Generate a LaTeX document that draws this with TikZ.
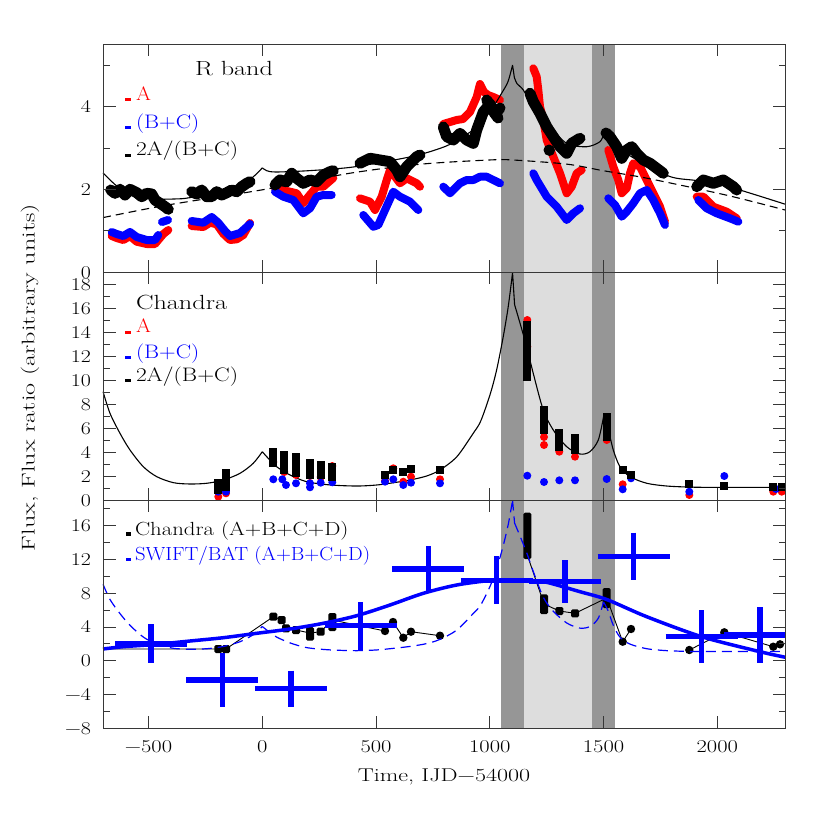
\documentclass[tikz,border=0pt]{standalone}
\definecolor{bandD}{RGB}{150,150,150}
\definecolor{bandL}{RGB}{221,221,221}
\definecolor{frcol}{RGB}{55,55,55}
\newcommand{\sx}[2]{\scalebox{#1}[1]{#2}}
\newcommand{\fs}[1]{\fontsize{#1}{#1}\selectfont}
\newcommand{\xcurve}{%
 plot[smooth,tension=0.5] coordinates {(-700,9.05) (-669.5,7.25) (-625.5,5.58) (-581.5,4.19) (-523,2.8) (-464,1.97) (-391,1.47) (-318,1.36) (-244,1.42) (-171,1.69) (-98,2.25) (-40,3.08) (0,4.05)}%
 plot[smooth,tension=0.5] coordinates {(0,4.05) (26,3.5) (63,2.8) (122,2.11) (195,1.55) (298,1.28) (415,1.19) (500,1.27) (561,1.42) (649,1.69) (723,2.03) (781,2.53) (855,3.63) (927,5.58) (960,6.6) (1001,8.8) (1030,10.86) (1059,13.63) (1081,16.13) (1100,18.97)}%
 plot coordinates {(1100,18.97) (1109,16.3)}%
 plot[smooth,tension=0.5] coordinates {(1109,16.3) (1133,14.75) (1162,12.8) (1191,10.58) (1235,7.53) (1279,5.86) (1338,4.47) (1396,3.86) (1440,4.05) (1477,5.03) (1500,6.97)}%
 plot[smooth,tension=0.5] coordinates {(1500,6.97) (1521,5.86) (1543,4.19) (1572,2.8) (1616,1.97) (1690,1.42) (1778,1.19) (1880,1.1) (1982,1.08) (2300,1.08)}%
}
\begin{document}
\begin{tikzpicture}[x=1pt,y=-1pt,
  fr/.style={draw=frcol, line width=0.9pt},
  tk/.style={draw=frcol, line width=0.8pt},
  rdat/.style={draw=red, line width=8pt, line join=round, line cap=round},
  bdat/.style={draw=blue, line width=8pt, line join=round, line cap=round},
  kdat/.style={draw=black, line width=11pt, line join=round, line cap=round},
  model/.style={draw=black, line width=1.1pt},
  xbar/.style={draw=blue, line width=5.5pt},
  lab/.style={inner sep=0pt, outer sep=0pt}]
\useasboundingbox (0,0) rectangle (830,830);
\fill[white] (0,0) rectangle (830,830);
% shaded time intervals
\fill[bandD] (501.2,44.3) rectangle (523.9,728.3);
\fill[bandL] (523.9,44.3) rectangle (592.2,728.3);
\fill[bandD] (592.2,44.3) rectangle (614.9,728.3);

% ================= PANEL 1 : R band =================
% red (A)
\draw[rdat] (111.7,236) -- (116.7,238) -- (123.3,240) -- (130,236) -- (136.7,241.7) -- (146.7,244) -- (155,244) -- (158.3,240) -- (163.3,234) -- (168.3,230);
\draw[rdat] (191.7,226) -- (203.3,227) -- (210,222.7) -- (216.7,224.3) -- (223.3,233.7) -- (230,240) -- (236.7,239.3) -- (243.3,235) -- (250,223);
\draw[rdat] (275,188.3) -- (290,191.7) -- (296.7,193.3) -- (303.3,203.3) -- (308.3,196.7) -- (316.7,186.7) -- (323.3,186.7) -- (333.3,178);
\draw[rdat] (360,198.3) -- (370,201.7) -- (375,210) -- (381.7,196.7) -- (386.7,180) -- (390,170) -- (396,178) -- (400,183.3) -- (406.7,178.3) -- (416.7,183.3) -- (420,186.7);
\draw[rdat] (443.3,124) -- (450,122) -- (456.7,120) -- (463,119) -- (470,112) -- (476.7,97) -- (480,84) -- (484,92) -- (488,95) -- (493.3,97) -- (500,100);
\draw[rdat] (533.3,68.3) -- (536.7,76.7) -- (538.3,90) -- (540,106.7) -- (543.3,120) -- (546.7,140) -- (553.3,156.7) -- (560,173.3) -- (566.7,193.3) -- (571.7,186.7) -- (576.7,173.3) -- (581.7,170);
\draw[rdat] (608.3,150) -- (613.3,166.7) -- (618.3,180) -- (621.7,193.3) -- (626.7,188.3) -- (630,173.3) -- (633.3,163.3) -- (640,166.7) -- (646.7,180) -- (653.3,193.3) -- (660,206.7) -- (665,221.7);
\draw[rdat] (696.7,196.7) -- (703.3,196.7) -- (713.3,206.7) -- (726.7,211.7) -- (736.7,218.3);
% blue (B+C)
\draw[bdat] (111.7,232) -- (116.7,234) -- (123.3,236) -- (130,232) -- (136.7,237) -- (146.7,240) -- (155,240) -- (158.3,235);
\draw[bdat] (162,222) -- (168,220);
\draw[bdat] (191.7,221) -- (203.3,222.7) -- (211.7,217) -- (218.3,222.7) -- (225,231) -- (230,236) -- (240,233) -- (246.7,227) -- (250,224);
\draw[bdat] (275,191.7) -- (283.3,196.7) -- (293.3,200) -- (298.3,206.7) -- (303.3,213.3) -- (310,208.3) -- (316.7,196.7) -- (323.3,195) -- (331.7,195);
\draw[bdat] (363.3,215) -- (373.3,226.7) -- (378.3,225) -- (385,210) -- (393.3,191.7) -- (400,196.7) -- (410,201.7) -- (418.3,210);
\draw[bdat] (443.3,186.7) -- (450,193.3) -- (460,183.3) -- (466.7,180) -- (473.3,180) -- (480,176.7) -- (486.7,176.7) -- (493.3,180) -- (500,183.3);
\draw[bdat] (533.3,173.3) -- (536.7,180) -- (546.7,196.7) -- (556.7,206.7) -- (566.7,220) -- (573.3,213.3) -- (580,208.3);
\draw[bdat] (608.3,198.3) -- (615,205) -- (621.7,216.7) -- (626.7,211.7) -- (633.3,203.3) -- (640,193.3) -- (646.7,190) -- (653.3,200) -- (660,213.3) -- (665,225);
\draw[bdat] (698.3,200) -- (706.7,208.3) -- (716.7,213.3) -- (730,218.3) -- (738.3,221.7);
% black 2A/(B+C)
\draw[kdat] (110.7,190) -- (115,193.3) -- (120,189.3) -- (125,195) -- (130,189.3) -- (136.7,192.7) -- (141.7,196.7) -- (146.7,193.3) -- (151.7,194) -- (155,200) -- (160,203.3) -- (165,206.7) -- (168.3,209.3);
\draw[kdat] (191.7,191.7) -- (196.7,194) -- (201.7,190) -- (206.7,196.7) -- (211.7,196.7) -- (216.7,191.7) -- (221.7,195) -- (226.7,192.7) -- (231.7,190) -- (236.7,191.7) -- (241.7,186.7) -- (246.7,183.3) -- (250,181.7);
\draw[kdat] (275,185) -- (280,180) -- (286.7,181.7) -- (291.7,173.3) -- (296.7,178.3) -- (303.3,183.3) -- (310,180) -- (316.7,181.7) -- (323.3,175) -- (330,171.7) -- (333.3,170.7);
\draw[kdat] (360,163.3) -- (370,158.3) -- (380,160) -- (390,161.7) -- (396.7,170) -- (400,176.7) -- (406.7,166.7) -- (416.7,156.7) -- (420,155);
\draw[kdat] (443.3,127) -- (446.7,136.7) -- (453.3,140) -- (460,133.3) -- (466.7,140) -- (473.3,143.3) -- (476.7,130) -- (483.3,112) -- (490,104) -- (495,114) -- (500,108);
\draw[kdat] (486.7,100) -- (498,118);
\draw[kdat] (530,93.3) -- (533.3,101.7) -- (540,113.3) -- (546.7,126.7) -- (553.3,136.7) -- (560,146.7) -- (566.7,153.3) -- (571.7,143.3) -- (580,138.3);
\draw[kdat] (549,150) -- (549.5,150.5);
\draw[kdat] (606,133) -- (610,136.7) -- (616.7,146.7) -- (621.7,158.3) -- (626.7,150) -- (631.7,146.7) -- (636.7,153.3) -- (643.3,160) -- (650,163.3) -- (656.7,168.3) -- (663.3,173.3);
\draw[kdat] (696.7,186.7) -- (703.3,180) -- (713.3,183.3) -- (723.3,180) -- (733.3,186.7) -- (736.7,190);
% models, panel 1
\begin{scope}[shift={(262.3,272.3)}, x=0.2275pt, y=41.45pt]
\draw[model] plot[smooth,tension=0.5] coordinates {(-700,2.40) (-660,2.18) (-620,2.0) (-560,1.86) (-470,1.77) (-380,1.77) (-320,1.8) (-170,1.98) (-60,2.22) (0,2.52)}
 plot[smooth,tension=0.5] coordinates {(0,2.52) (20,2.45) (60,2.42) (200,2.45) (385,2.53) (550,2.68) (686,2.83) (810,3.05) (900,3.33) (960,3.6) (1010,3.95) (1052,4.32) (1080,4.6) (1100,5.0)}
 plot coordinates {(1100,5.0) (1108,4.7)}
 plot[smooth,tension=0.5] coordinates {(1108,4.7) (1120,4.55) (1147,4.4) (1191,4.0) (1260,3.55) (1338,3.11) (1426,3.03) (1484,3.15) (1500,3.33)}
 plot[smooth,tension=0.5] coordinates {(1500,3.33) (1520,3.2) (1560,3.02) (1650,2.7) (1792,2.31) (1900,2.22) (1997,2.15) (2150,1.9) (2300,1.64)};
\draw[model, dash pattern=on 8pt off 5pt] plot[smooth,tension=0.5] coordinates {(-700,1.32) (-420,1.62) (0,1.99) (385,2.39) (700,2.61) (1000,2.71) (1100,2.71) (1338,2.61) (1500,2.45) (1700,2.26) (2041,1.86) (2300,1.5)};
\end{scope}
% labels, panel 1
\node[lab, anchor=base west] (rband) at (195,75) {\fs{20.5}\sx{1.28}{R band}};
\fill[red] (125,97.5) rectangle (131,100.5);
\node[lab, anchor=base west, text=red] (l1a) at (136,100) {\fs{19.5}\sx{1.1}{A}};
\fill[blue] (125,126) rectangle (131,129);
\node[lab, anchor=base west, text=blue] (l1b) at (136,128.3) {\fs{19.5}\sx{1.18}{(B+C)}};
\fill[black] (125,153.5) rectangle (131,156.5);
\node[lab, anchor=base west] (l1c) at (136,155) {\fs{19.5}\sx{1.2}{2A/(B+C)}};

% ================= PANEL 2 : Chandra ratios =================
\begin{scope}[shift={(262.3,500.3)}, x=0.2275pt, y=12pt]
\draw[model] \xcurve;
\end{scope}
\foreach \x/\y in {218.3/496.7, 226/493.3, 273.3/462, 284.3/472, 296/475, 310/476, 320.7/477, 332.3/466, 385/480.7, 393.3/468.3, 403.3/481.7, 411/476.7, 440/479.3, 527.3/320, 527.3/346.7, 527.3/370, 544/437, 544/445, 559.3/451.7, 575/456.7, 606.7/440, 622.7/484.3, 689.3/495, 773.3/491.7, 781.7/491.7}
  \fill[red] (\x,\y) circle[radius=4];
\foreach \x/\y in {218.3/491.7, 226/491.7, 273.3/479.3, 282.3/479.3, 286/485, 296/483.3, 310/483.3, 310/487.3, 320.7/482.7, 332.3/482.3, 385/481.7, 393.3/479.3, 403.3/485, 411/482.7, 440/483.3, 527.3/475.7, 544/482, 559.3/480.3, 575/480.3, 606.7/479, 622.7/489.3, 631/478.3, 689.3/491.7, 724.3/476, 776/489}
  \fill[blue] (\x,\y) circle[radius=4];
\foreach \x/\a/\b in {218.3/483/490, 226/473/486.7, 273.3/451.7/463.3, 284.3/455/470, 296/456.7/473.3, 310/463.3/475, 320.7/465/475, 332.3/466.7/476.7, 385/475/475, 393.3/470/470, 403.3/471.7/471.7, 411/469.3/469.3, 440/470/470, 527.3/325/376.7, 544/410/430, 559.3/433.3/446.7, 575/438.3/450, 606.7/416.7/436.7, 622.7/470/470, 631/475/475, 689.3/484.3/484.3, 724.3/485.7/485.7, 773.3/486.7/486.7, 781.7/486.7/486.7}
  \fill[black] (\x-4,\a-4) rectangle (\x+4,\b+4);
% labels, panel 2
\node[lab, anchor=base west] (chan) at (136,309.3) {\fs{20.5}\sx{1.28}{Chandra}};
\fill[red] (125,330.5) rectangle (131,333.5);
\node[lab, anchor=base west, text=red] (l2a) at (136,332.7) {\fs{19.5}\sx{1.1}{A}};
\fill[blue] (125,355.5) rectangle (131,358.5);
\node[lab, anchor=base west, text=blue] (l2b) at (136,358.3) {\fs{19.5}\sx{1.18}{(B+C)}};
\fill[black] (125,378.5) rectangle (131,381.5);
\node[lab, anchor=base west] (l2c) at (136,381.7) {\fs{19.5}\sx{1.2}{2A/(B+C)}};

% ================= PANEL 3 : total flux =================
\draw[black, line width=0.9pt] (103,649) -- (218.3,649) -- (226,649) -- (273.3,616.7) -- (281.7,620) -- (286,628.3) -- (296,630) -- (310,633) -- (320.7,631.7) -- (332.3,620) -- (385,631) -- (393,622) -- (403.3,637.7) -- (411,631.7) -- (440,635.7);
\draw[black, line width=0.9pt] (527.3,555) -- (544,604) -- (559.3,611) -- (575,613.3) -- (606.7,598) -- (622.7,641.7) -- (631,629);
\draw[black, line width=0.9pt] (689.3,650) -- (724.3,632.3) -- (773.3,646.7) -- (780,644.3);
\foreach \x/\a/\b in {218.3/649/649, 226/649/649, 273.3/616.7/616.7, 281.7/620/620, 286/628.3/628.3, 296/630/630, 310/631/636.7, 320.7/631.7/631.7, 332.3/617/627, 527.3/516.7/555, 544/598.3/610, 559.3/611/611, 575/613.3/613.3, 606.7/592/604}
  \fill[black, rounded corners=1.5pt] (\x-4,\a-4) rectangle (\x+4,\b+4);
\foreach \x/\y in {385/631, 393/622, 403.3/637.7, 411/631.7, 440/635.7, 622.7/641.7, 631/629, 689.3/650, 724.3/632.3, 773.3/646.7, 780/644.3}
  \fill[black] (\x,\y) circle[radius=4.2];
\begin{scope}[shift={(262.3,660.7)}, x=0.2275pt, y=8.444pt]
\draw[blue, line width=1.2pt, dash pattern=on 10pt off 6pt] \xcurve;
\end{scope}
\draw[blue, line width=3.5pt, line join=round] plot[smooth,tension=0.5] coordinates {(103,649) (123.3,646.7) (156.7,644.3) (190,641) (223.3,637.7) (256.7,633.3) (290,629) (323.3,623.3) (356.7,615.7) (390,605) (423.3,593.3) (456.7,585) (490,580.5) (513.3,580) (530,580.5) (546.7,582.3) (580,591.7) (606.7,599.5) (646.7,616.7) (701.7,636.7) (760,651.7) (785.6,657.3)};
% SWIFT/BAT points with error bars
\foreach \x/\y/\a/\b in {151/644/624.3/663.3, 222.3/680/653.3/706.7, 291/688.3/670.7/707.3, 360.7/625.7/602.3/650, 428.3/569/546/592.3, 496.7/580.5/556/604, 565/581.7/560/603.3, 633.7/556.7/532.7/580, 701.7/636.7/610/663.3, 760/635/607.3/663.3}
{
  \draw[xbar] ({max(\x-36,103)},\y) -- ({min(\x+36,785.6)},\y);
  \draw[xbar] (\x,\a) -- (\x,\b);
}
% labels, panel 3
\fill[black] (126,532) rectangle (131,535.5);
\node[lab, anchor=base west] (l3a) at (135,535) {\fs{19}\sx{1.2}{Chandra (A+B+C+D)}};
\fill[blue] (126,557.5) rectangle (131,561);
\node[lab, anchor=base west, text=blue] (l3b) at (135,560.7) {\fs{19}\sx{1.09}{SWIFT/BAT (A+B+C+D)}};

% ================= FRAMES, TICKS, LABELS =================
\foreach \t in {-500,0,...,2000} {
  \foreach \yt/\yb in {44.3/272.3, 272.3/500.3, 500.3/728.3} {
    \draw[tk] ({262.3+0.2275*\t},\yt) -- ++(0,12);
    \draw[tk] ({262.3+0.2275*\t},\yb) -- ++(0,-12);
  }
}
% panel 1 y ticks
\foreach \v in {0,2,4} {
  \draw[tk] (103,{272.3-41.45*\v}) -- ++(13,0);
  \draw[tk] (785.6,{272.3-41.45*\v}) -- ++(-13,0);
  \node[lab, anchor=base east] at (91,{272.3-41.45*\v+6}) {\fs{18}\sx{1.22}{\v}};
}
\foreach \v in {1,3,5} {
  \draw[tk] (103,{272.3-41.45*\v}) -- ++(6.5,0);
  \draw[tk] (785.6,{272.3-41.45*\v}) -- ++(-6.5,0);
}
% panel 2 y ticks
\foreach \v in {0,2,...,18} {
  \draw[tk] (103,{500.3-12*\v}) -- ++(13,0);
  \draw[tk] (785.6,{500.3-12*\v}) -- ++(-13,0);
  \node[lab, anchor=base east] at (91,{500.3-12*\v+6}) {\fs{18}\sx{1.22}{\v}};
}
\foreach \v in {1,3,...,17} {
  \draw[tk] (103,{500.3-12*\v}) -- ++(6.5,0);
  \draw[tk] (785.6,{500.3-12*\v}) -- ++(-6.5,0);
}
% panel 3 y ticks
\foreach \v/\s in {16/16, 12/12, 8/8, 4/4, 0/0, -4/−4, -8/−8} {
  \draw[tk] (103,{660.7-8.444*\v}) -- ++(13,0);
  \draw[tk] (785.6,{660.7-8.444*\v}) -- ++(-13,0);
  \node[lab, anchor=base east] at (91,{660.7-8.444*\v+6}) {\fs{18}\sx{1.22}{\s}};
}
\foreach \v in {-6,-2,...,18} {
  \draw[tk] (103,{660.7-8.444*\v}) -- ++(6.5,0);
  \draw[tk] (785.6,{660.7-8.444*\v}) -- ++(-6.5,0);
}
% x tick labels
\foreach \t/\s in {-500/−500, 0/0, 500/500, 1000/1000, 1500/1500, 2000/2000}
  \node[lab, anchor=base] at ({262.3+0.2275*\t},752.7) {\fs{18}\sx{1.25}{\s}};
% frames
\draw[fr] (103,44.3) rectangle (785.6,728.3);
\draw[fr] (103,272.3) -- (785.6,272.3);
\draw[fr] (103,500.3) -- (785.6,500.3);
% axis titles
\node[lab, anchor=base] (xtitle) at (444,781.7) {\fs{18.5}\sx{1.3}{Time, IJD−54000}};
\node[lab, rotate=90] (ytitle) at (30,377.5) {\fs{18.5}\sx{1.41}{Flux, Flux ratio (arbitrary units)}};
\end{tikzpicture}
\end{document}
